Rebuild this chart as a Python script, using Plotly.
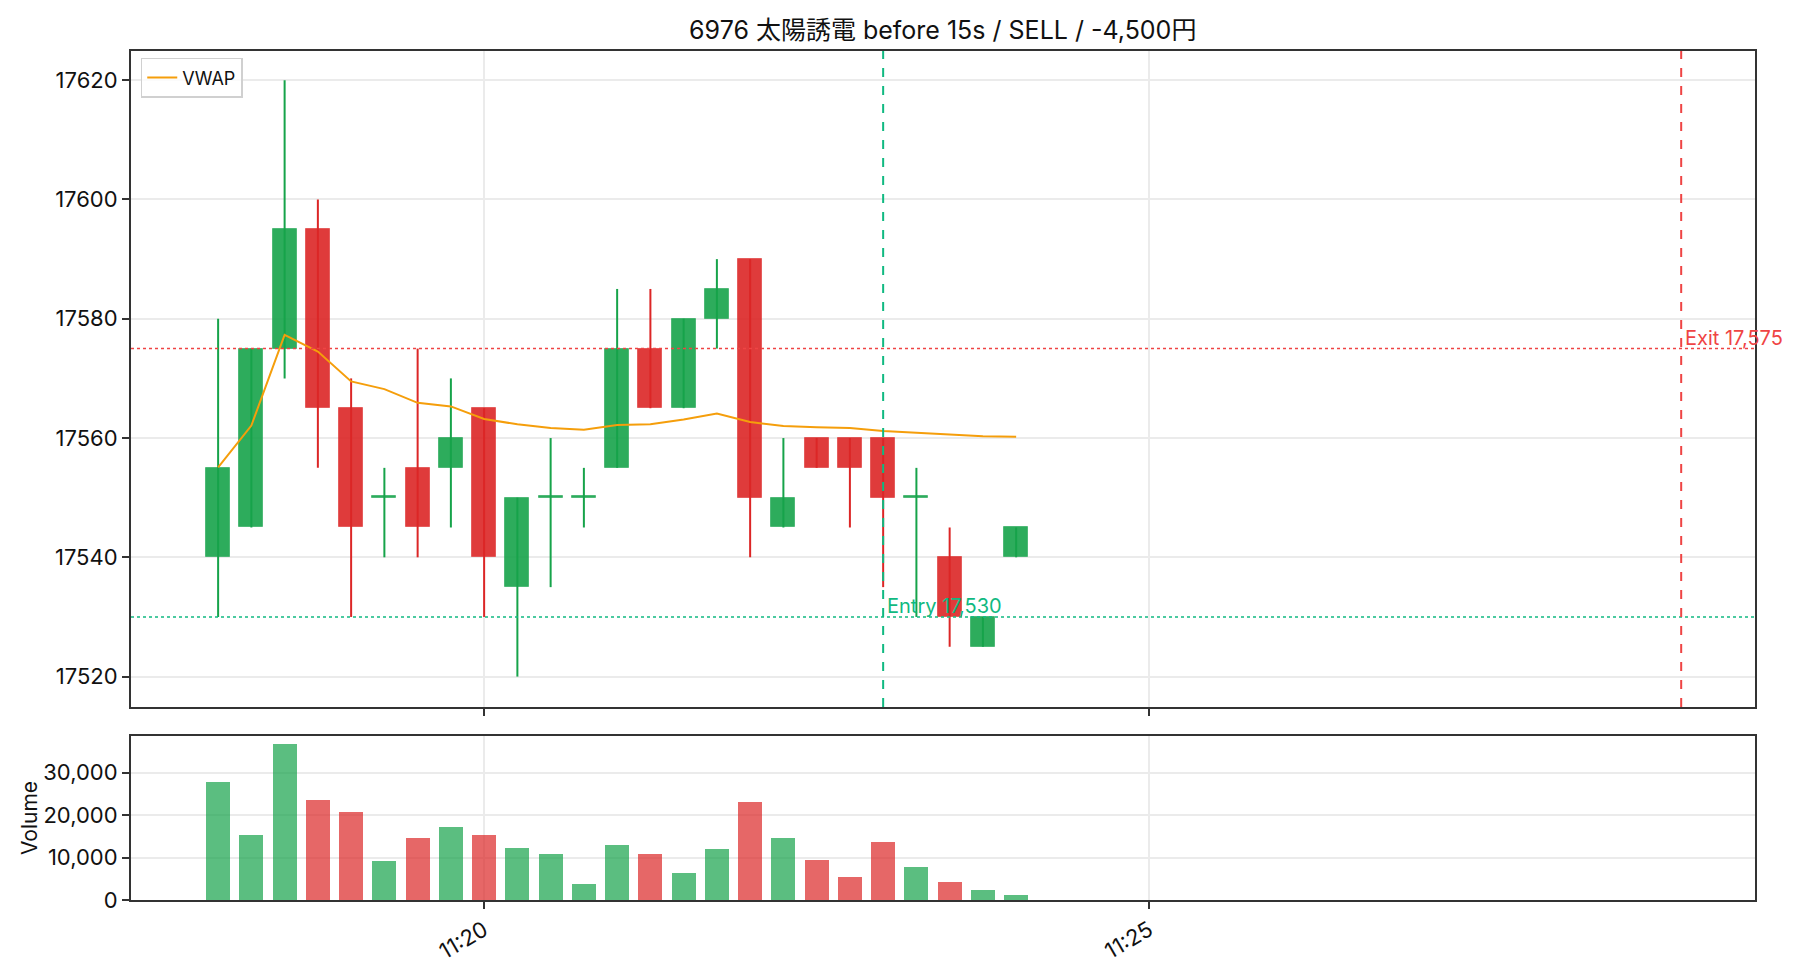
import plotly.graph_objects as go

DATE = "2025-01-01 "
times = ["11:18:00", "11:18:15", "11:18:30", "11:18:45", "11:19:00", "11:19:15", "11:19:30",
         "11:19:45", "11:20:00", "11:20:15", "11:20:30", "11:20:45", "11:21:00", "11:21:15",
         "11:21:30", "11:21:45", "11:22:00", "11:22:15", "11:22:30", "11:22:45", "11:23:00",
         "11:23:15", "11:23:30", "11:23:45", "11:24:00"]
opens = [17540, 17545, 17575, 17595, 17565, 17550, 17555, 17555, 17565, 17535, 17550, 17550, 17555,
         17575, 17565, 17580, 17590, 17545, 17560, 17560, 17560, 17550, 17540, 17525, 17540]
closes = [17555, 17575, 17595, 17565, 17545, 17550, 17545, 17560, 17540, 17550, 17550, 17550, 17575,
          17565, 17580, 17585, 17550, 17550, 17555, 17555, 17550, 17550, 17530, 17530, 17545]
highs = [17580, 17575, 17620, 17600, 17570, 17555, 17575, 17570, 17565, 17550, 17560, 17555, 17585,
         17585, 17580, 17590, 17590, 17560, 17560, 17560, 17560, 17555, 17545, 17530, 17545]
lows = [17530, 17545, 17570, 17555, 17530, 17540, 17540, 17545, 17530, 17520, 17535, 17545, 17555,
        17565, 17565, 17575, 17540, 17545, 17555, 17545, 17535, 17530, 17525, 17525, 17540]
volumes = [27800, 15200, 36700, 23600, 20600, 9100, 14500, 17100, 15400, 12200, 10800, 3700, 12900,
           10800, 6300, 11900, 23100, 14700, 9350, 5400, 13600, 7700, 4200, 2300, 1200]
vwap = [17555.1, 17562.1, 17577.3, 17574.5, 17569.5, 17568.2, 17565.9, 17565.3, 17563.2, 17562.3,
        17561.7, 17561.4, 17562.2, 17562.3, 17563.1, 17564.1, 17562.7, 17562.0, 17561.8, 17561.7,
        17561.2, 17560.9, 17560.5, 17560.3, 17560.2]

entry_time = "11:23:00"
entry_price = 17530
exit_time = "11:29:00"
exit_price = 17575
title_text = "6976 太陽誘電 before 15s / SELL / -4,500円"
x_range = ["11:17:20.7", "11:29:33.3"]
price_ticks = [17520, 17540, 17560, 17580, 17600, 17620]
vol_ticks = [0, 10000, 20000, 30000]

FONT = "Inter, Noto Sans CJK JP, sans-serif"
GREEN = (22, 163, 74)
RED = (220, 38, 38)
ENTRY_C = "#10b981"
EXIT_C = "#ef4444"


def rgba(c, a):
    return f"rgba({c[0]},{c[1]},{c[2]},{a})"


xs = [DATE + t for t in times]
up = [c >= o for o, c in zip(opens, closes)]

fig = go.Figure()

# wicks
for is_up, col in [(True, GREEN), (False, RED)]:
    wx, wy = [], []
    for x, h, l, u in zip(xs, highs, lows, up):
        if u == is_up:
            wx += [x, x, None]
            wy += [l, h, None]
    fig.add_trace(go.Scatter(x=wx, y=wy, mode="lines", line=dict(color=rgba(col, 1), width=2),
                             showlegend=False, hoverinfo="skip", xaxis="x", yaxis="y"))

# bodies
MIN_H = 0.3
for is_up, col in [(True, GREEN), (False, RED)]:
    bx, bb, bh = [], [], []
    for x, o, c, u in zip(xs, opens, closes, up):
        if u == is_up:
            bx.append(x)
            bb.append(min(o, c))
            bh.append(max(abs(c - o), MIN_H))
    fig.add_trace(go.Bar(x=bx, y=bh, base=bb, width=10800,
                         marker=dict(color=rgba(col, 0.9), line=dict(color=rgba(col, 0.55), width=1)),
                         showlegend=False, xaxis="x", yaxis="y"))

# VWAP
fig.add_trace(go.Scatter(x=xs, y=vwap, mode="lines", name="VWAP",
                         line=dict(color="#f59e0b", width=2), xaxis="x", yaxis="y"))

# volume
vcols = [rgba(GREEN, 0.7) if u else rgba(RED, 0.7) for u in up]
fig.add_trace(go.Bar(x=xs, y=volumes, width=10800, marker=dict(color=vcols, line=dict(width=0)),
                     showlegend=False, xaxis="x2", yaxis="y2"))

ex = DATE + entry_time
xx = DATE + exit_time
shapes = [
    dict(type="line", xref="x", yref="y domain", x0=ex, x1=ex, y0=0, y1=1,
         line=dict(color=ENTRY_C, width=2, dash="dash")),
    dict(type="line", xref="x domain", yref="y", x0=0, x1=1, y0=entry_price, y1=entry_price,
         line=dict(color=ENTRY_C, width=1.5, dash="dot")),
    dict(type="line", xref="x", yref="y domain", x0=xx, x1=xx, y0=0, y1=1,
         line=dict(color=EXIT_C, width=2, dash="dash")),
    dict(type="line", xref="x domain", yref="y", x0=0, x1=1, y0=exit_price, y1=exit_price,
         line=dict(color=EXIT_C, width=1.5, dash="dot")),
]
annotations = [
    dict(x=ex, y=entry_price, xref="x", yref="y", text=f"Entry {entry_price:,}", showarrow=False,
         xanchor="left", yanchor="bottom", xshift=2, yshift=-3, font=dict(color=ENTRY_C, size=20, family=FONT)),
    dict(x=xx, y=exit_price, xref="x", yref="y", text=f"Exit {exit_price:,}", showarrow=False,
         xanchor="left", yanchor="bottom", xshift=2, yshift=-3, font=dict(color=EXIT_C, size=20, family=FONT)),
]

axis_common = dict(showline=True, linecolor="#333333", linewidth=2, mirror=True,
                   ticks="outside", ticklen=7, tickwidth=1.5, tickcolor="#333333",
                   showgrid=True, gridcolor="#ebebeb", gridwidth=1.5, zeroline=False,
                   tickfont=dict(size=22, family=FONT, color="#111111"))
xr = [DATE + x_range[0], DATE + x_range[1]]

fig.update_layout(
    width=1820, height=980,
    margin=dict(l=131, r=65, t=51, b=80),
    paper_bgcolor="white", plot_bgcolor="white",
    barmode="overlay", bargap=0,
    font=dict(family=FONT, size=22, color="#111111"),
    title=dict(text=title_text, x=0.518, xanchor="center", y=1 - 30 / 980, yanchor="middle",
               yref="container", font=dict(size=25, family=FONT, color="#111111")),
    xaxis=dict(**axis_common, type="date", range=xr, anchor="y", domain=[0, 1],
               dtick=300000, tick0=DATE + "11:20:00", showticklabels=False, tickformat="%H:%M"),
    yaxis=dict(**axis_common, domain=[(900 - 707) / 849, 1.0], range=[17514.9, 17624.9],
               tickvals=price_ticks, ticktext=[str(v) for v in price_ticks]),
    xaxis2=dict(**axis_common, type="date", range=xr, anchor="y2", matches="x", domain=[0, 1],
                dtick=300000, tick0=DATE + "11:20:00", tickformat="%H:%M", tickangle=-30),
    yaxis2=dict(**axis_common, domain=[0, (900 - 736) / 849], range=[0, 38600],
                tickvals=vol_ticks, ticktext=[f"{v:,}" for v in vol_ticks],
                title=dict(text="Volume", font=dict(size=21, family=FONT), standoff=0)),
    legend=dict(x=0.006, y=0.992, xanchor="left", yanchor="top", bgcolor="rgba(255,255,255,0.8)",
                bordercolor="#d0d0d0", borderwidth=1.5, font=dict(size=18, family=FONT)),
    shapes=shapes, annotations=annotations,
)

fig.write_html("out.html")
